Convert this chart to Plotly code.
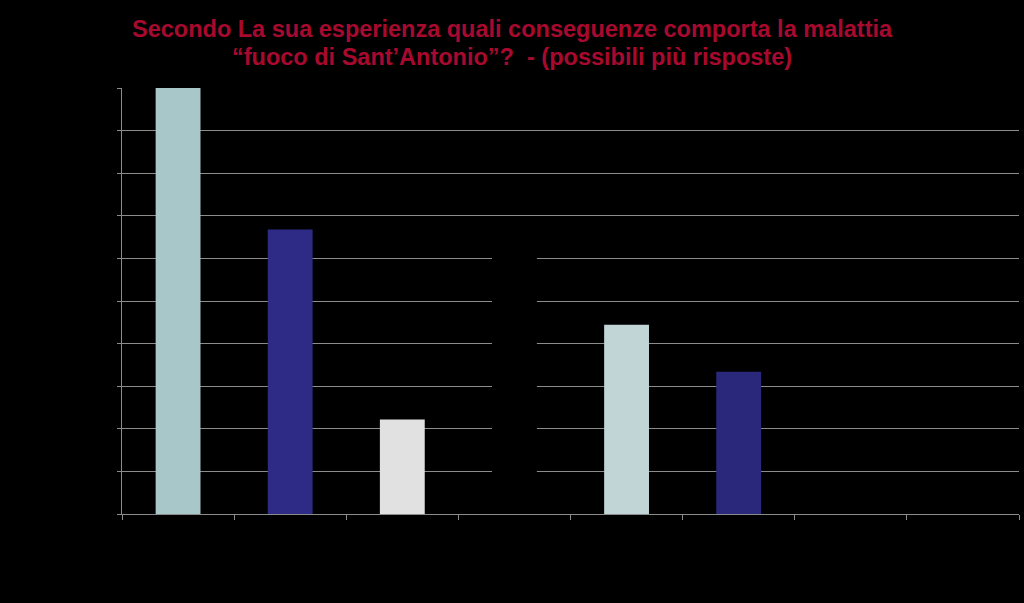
import plotly.graph_objects as go

categories = ["c1", "c2", "c3", "c4", "c5", "c6", "c7", "c8"]
values = [50.0, 33.4, 11.1, 33.6, 22.2, 16.7, 0, 0]
bar_colors = ["#a7c7c8", "#2d2b85", "#e1e1e1", "#000000", "#c1d4d6", "#29287a", "#000000", "#000000"]
y_ticks = [0, 5, 10, 15, 20, 25, 30, 35, 40, 45, 50]

title_lines = [
    "Secondo La sua esperienza quali conseguenze comporta la malattia",
    "\u201cfuoco di Sant\u2019Antonio\u201d?  - (possibili pi\u00f9 risposte)",
]

fig = go.Figure()
fig.add_trace(go.Bar(
    x=categories, y=values, marker=dict(color=bar_colors, line=dict(width=0)),
    width=0.4, showlegend=False, hoverinfo="x+y",
))

# title as two annotations, centred on the page (not the plot area)
for i, line in enumerate(title_lines):
    fig.add_annotation(
        text=f"<b>{line}</b>", xref="paper", yref="paper",
        x=(512 - 122) / 897, y=1 + (59 - 28 * i) / 426,
        xanchor="center", yanchor="middle", showarrow=False,
        font=dict(family="Liberation Sans", size=23.5, color="#a8092f"),
    )

fig.update_layout(
    width=1024, height=603,
    paper_bgcolor="#000000", plot_bgcolor="#000000",
    margin=dict(l=122, r=5, t=88, b=89),
    bargap=0.6,
)
fig.update_xaxes(
    showticklabels=False, showgrid=False, zeroline=False,
    showline=True, linecolor="#8c8c8c", linewidth=1,
    ticks="outside", tickson="boundaries", ticklen=5, tickcolor="#8c8c8c",
)
fig.update_yaxes(
    range=[0, 50], tickvals=y_ticks, showticklabels=False,
    showgrid=True, gridcolor="#8c8c8c", gridwidth=1, zeroline=False,
    showline=True, linecolor="#8c8c8c", linewidth=1,
    ticks="outside", ticklen=4, tickcolor="#8c8c8c",
)

fig.write_html(
    "out.html", config={"displayModeBar": False},
    post_script="document.body.style.margin='0';",
)
